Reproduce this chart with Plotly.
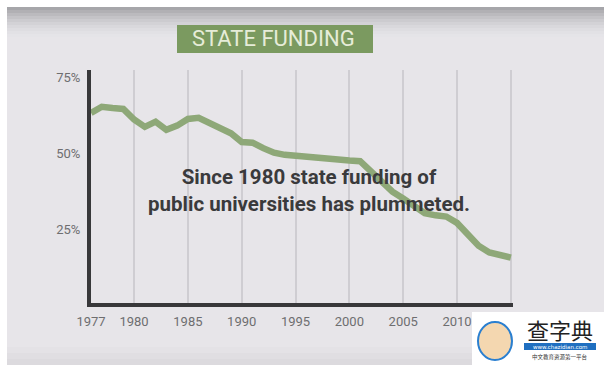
import plotly.graph_objects as go

# ---- data ----
years = list(range(1976, 2016))
funding_pct = [63.2, 65.2, 64.8, 64.5, 61.0, 58.6, 60.3, 57.6, 59.0, 61.2,
               61.6, 59.8, 57.8, 56.5, 53.6, 53.4, 51.6, 50.1, 49.4, 49.0,
               48.8, 48.6, 48.3, 47.4, 47.5, 47.3, 43.9, 40.5, 37.3, 35.0,
               32.5, 30.2, 29.5, 29.1, 27.0, 23.3, 19.5, 17.3, 16.5, 15.6]
x_tickvals = [1976, 1980, 1985, 1990, 1995, 2000, 2005, 2010, 2015]
x_ticktext = ["1977", "1980", "1985", "1990", "1995", "2000", "2005", "2010", ""]
y_tickvals = [25, 50, 75]
y_ticktext = ["25%", "50%", "75%"]

W, H = 611, 371
L, R, T, B = 91, 98, 70, 68
PW, PH = W - L - R, H - T - B


def px(x):
    return (x - L) / PW


def py(y):
    return (H - B - y) / PH


FONT = "Roboto, Arial, sans-serif"

fig = go.Figure()
fig.add_trace(go.Scatter(
    x=years, y=funding_pct, mode="lines",
    line=dict(color="#8ea878", width=6.5, shape="linear"),
    hoverinfo="skip", showlegend=False,
))

shapes = []
# grey "screen" background
shapes.append(dict(type="rect", xref="paper", yref="paper", layer="below",
                   x0=px(7), x1=px(604), y0=py(365), y1=py(7),
                   fillcolor="#e7e5e9", line=dict(width=0)))
# darker top vignette
top_cols = ["#a6a6aa", "#b1b0b4", "#bbbabe", "#c4c3c7", "#cccbcf",
            "#d3d2d6", "#d9d8dc", "#dedde1", "#e2e1e5", "#e5e4e8"]
for i, c in enumerate(top_cols):
    shapes.append(dict(type="rect", xref="paper", yref="paper", layer="below",
                       x0=px(7), x1=px(604), y0=py(7 + 3 * (i + 1)), y1=py(7 + 3 * i),
                       fillcolor=c, line=dict(width=0)))
# slightly darker bottom band
bot_cols = ["#e4e2e6", "#e0dee2", "#dcdade"]
for i, c in enumerate(bot_cols):
    shapes.append(dict(type="rect", xref="paper", yref="paper", layer="below",
                       x0=px(7), x1=px(604), y0=py(365), y1=py(347 + 6 * i),
                       fillcolor=c, line=dict(width=0)))
# title box
shapes.append(dict(type="rect", xref="paper", yref="paper",
                   x0=px(177), x1=px(373), y0=py(53), y1=py(25),
                   fillcolor="#7b9a60", line=dict(width=0)))
# watermark box
shapes.append(dict(type="rect", xref="paper", yref="paper",
                   x0=px(472), x1=px(604), y0=py(365), y1=py(312),
                   fillcolor="#ffffff", line=dict(width=0)))
shapes.append(dict(type="circle", xref="paper", yref="paper",
                   x0=px(478), x1=px(512), y0=py(360), y1=py(322),
                   fillcolor="#f4d7b0", line=dict(color="#2a7fd0", width=2)))
shapes.append(dict(type="rect", xref="paper", yref="paper",
                   x0=px(524), x1=px(596), y0=py(350), y1=py(343),
                   fillcolor="#1f6fc0", line=dict(width=0)))

annotations = [
    dict(text="STATE FUNDING", xref="paper", yref="paper", x=px(273), y=py(39),
         showarrow=False, font=dict(family=FONT, size=22, color="#e6ecd8"),
         xanchor="center", yanchor="middle"),
    dict(text="<b>Since 1980 state funding of<br>public universities has plummeted.</b>",
         xref="paper", yref="paper", x=px(309), y=py(190), showarrow=False,
         font=dict(family=FONT, size=20.5, color="#3a3a3c"), align="center",
         xanchor="center", yanchor="middle"),
    dict(text="查字典", xref="paper", yref="paper", x=px(560), y=py(329),
         showarrow=False, font=dict(family="Noto Sans CJK SC", size=22, color="#222"),
         xanchor="center", yanchor="middle"),
    dict(text="www.chazidian.com", xref="paper", yref="paper", x=px(560), y=py(346.5),
         showarrow=False, font=dict(family="DejaVu Sans", size=5.5, color="#ffffff"),
         xanchor="center", yanchor="middle"),
    dict(text="中文教育资源第一平台", xref="paper", yref="paper", x=px(560), y=py(357),
         showarrow=False, font=dict(family="Noto Sans CJK SC", size=5.5, color="#333"),
         xanchor="center", yanchor="middle"),
]

fig.update_layout(
    width=W, height=H,
    margin=dict(l=L, r=R, t=T, b=B, pad=0),
    paper_bgcolor="#ffffff", plot_bgcolor="rgba(0,0,0,0)",
    shapes=shapes, annotations=annotations,
    xaxis=dict(range=[1976, 2015.2], tickvals=x_tickvals, ticktext=x_ticktext,
               showgrid=True, gridcolor="#cfcdd2", gridwidth=1.5,
               showline=True, linecolor="#38383a", linewidth=4,
               ticks="outside", ticklen=3, tickcolor="rgba(0,0,0,0)",
               tickfont=dict(family=FONT, size=13, color="#6e6e70"),
               zeroline=False, fixedrange=True),
    yaxis=dict(range=[0.66, 77.3], tickvals=y_tickvals, ticktext=y_ticktext,
               showgrid=False, showline=True, linecolor="#38383a", linewidth=4,
               ticks="outside", ticklen=4, tickcolor="rgba(0,0,0,0)",
               tickfont=dict(family=FONT, size=13, color="#6e6e70"),
               zeroline=False, fixedrange=True),
)

fig.write_html("out.html")
